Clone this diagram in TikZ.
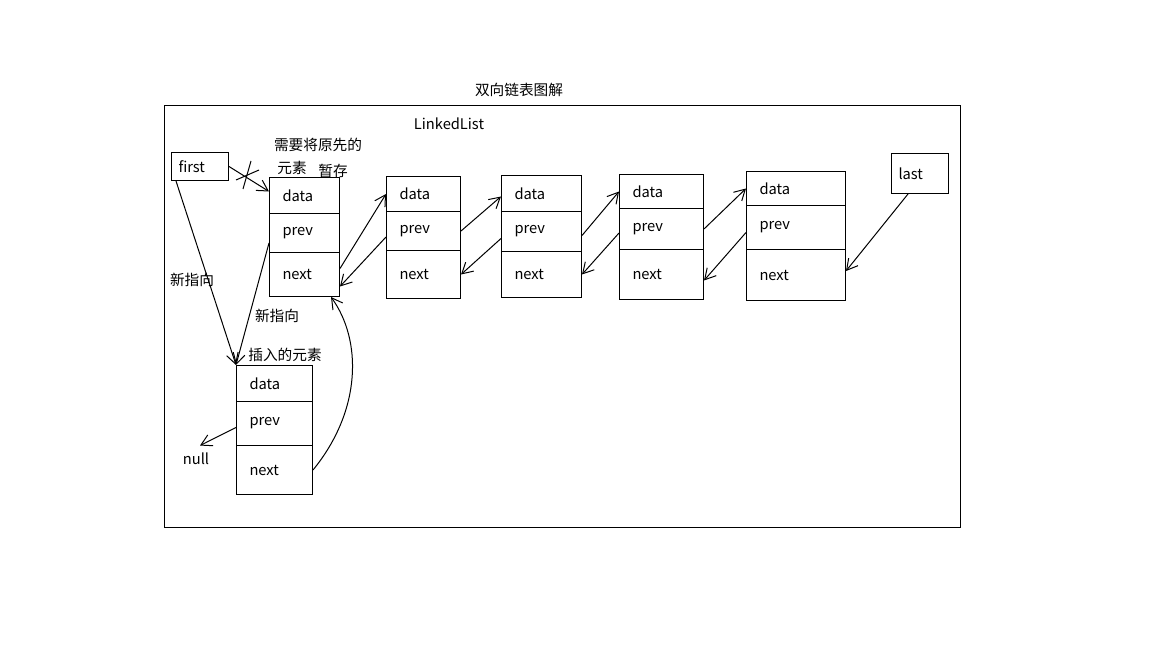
\documentclass[tikz,border=0pt]{standalone}
\usepackage{fontspec}
\setmainfont{Noto Sans CJK SC}
\usetikzlibrary{arrows.meta,calc}
\tikzset{every picture/.style={line width=0.75pt}}

\begin{document}
\begin{tikzpicture}[x=0.75pt,y=0.75pt,yscale=-1,xscale=1,
  cell/.style={draw, anchor=north west, inner ysep=0pt, inner xsep=9.75pt, align=left,
    font=\fontsize{11}{13}\selectfont},
  cw/.style={minimum width=#1*0.75pt, text width=(#1-26)*0.75pt},
  pw/.style={minimum width=#1*0.75pt, text width=(#1-14)*0.75pt, inner xsep=5.25pt},
  ch/.style={minimum height=#1*0.75pt},
  lbl/.style={inner sep=0.75pt, font=\fontsize{11}{13}\selectfont},
  ptr/.style={-{Straight Barb[length=8pt,width=9pt]}}]
  \useasboundingbox (0,0) rectangle (1152,648);

  %Shape: Rectangle [frame]
  \draw (164,106) rectangle (960,527);

  % Text Node
  \node[lbl] (title) at (519,90) {双向链表图解};
  % Text Node
  \node[lbl] (lltxt) at (449,124) {LinkedList};

  % first / last
  \node[cell, pw=57, ch=28] (first) at (171,152) {first};
  \node[cell, pw=57, ch=40] (last) at (891,153) {last};

  % element A (original first)
  \node[cell, cw=70, ch=36] (Adata) at (269,177) {data};
  \node[cell, cw=70, ch=39] (Aprev) at (269,213) {prev};
  \node[cell, cw=70, ch=44] (Anext) at (269,252) {next};
  % element B
  \node[cell, cw=74, ch=35] (Bdata) at (386,176) {data};
  \node[cell, cw=74, ch=39] (Bprev) at (386,211) {prev};
  \node[cell, cw=74, ch=48] (Bnext) at (386,250) {next};
  % element C
  \node[cell, cw=80, ch=36] (Cdata) at (501,175) {data};
  \node[cell, cw=80, ch=40] (Cprev) at (501,211) {prev};
  \node[cell, cw=80, ch=46] (Cnext) at (501,251) {next};
  % element D
  \node[cell, cw=84, ch=34] (Ddata) at (619,174) {data};
  \node[cell, cw=84, ch=41] (Dprev) at (619,208) {prev};
  \node[cell, cw=84, ch=50] (Dnext) at (619,249) {next};
  % element E
  \node[cell, cw=99, ch=34] (Edata) at (746,171) {data};
  \node[cell, cw=99, ch=44] (Eprev) at (746,205) {prev};
  \node[cell, cw=99, ch=51] (Enext) at (746,249) {next};
  % inserted element
  \node[cell, cw=76, ch=36] (Idata) at (236,365) {data};
  \node[cell, cw=76, ch=44] (Iprev) at (236,401) {prev};
  \node[cell, cw=76, ch=49] (Inext) at (236,445) {next};

  % Text Node
  \node[lbl] (notea) at (318,145) {需要将原先的};
  \node[lbl] (noteb) at (292,168) {元素};
  \node[lbl] (notec) at (333,171) {暂存};
  \node[lbl] (newa) at (192,280) {新指向};
  \node[lbl] (newb) at (277,316) {新指向};
  \node[lbl] (instxt) at (285,355) {插入的元素};
  \node[lbl] (null) at (196,459) {null};

  %old pointer, struck out
  \draw[ptr] (first.east) -- ($(Adata.west)+(0,-4)$);
  \draw (251,161) -- (243,189);
  \draw (236,180) -- (259,170);
  %new pointers
  \draw[ptr] ($(first.south west)+(5,0)$) -- (Idata.north west);
  \draw[ptr] ($(Aprev.west)+(0,10)$) -- (Idata.north west);
  \draw[ptr] (Inext.east) .. controls (362,410) and (362,340) .. ($(Anext.south east)+(-9,0)$);
  \draw[ptr] ($(Iprev.west)+(0,4)$) -- ($(null.north)+(4,-6)$);

  %links between elements
  \draw[ptr] ($(Anext.east)+(0,-6)$) -- (Bdata.west);
  \draw[ptr] ($(Bprev.west)+(0,6)$) -- ($(Anext.east)+(0,12)$);
  \draw[ptr] (Bprev.east) -- ($(Cdata.west)+(0,3)$);
  \draw[ptr] ($(Cprev.west)+(0,7)$) -- (Bnext.east);
  \draw[ptr] ($(Cprev.east)+(0,4)$) -- (Ddata.west);
  \draw[ptr] ($(Dprev.west)+(0,4)$) -- (Cnext.east);
  \draw[ptr] (Dprev.east) -- (Edata.west);
  \draw[ptr] ($(Eprev.west)+(0,5)$) -- ($(Dnext.east)+(0,6)$);
  \draw[ptr] ($(last.south)+(-12,0)$) -- ($(Enext.east)+(0,-4)$);
\end{tikzpicture}
\end{document}
